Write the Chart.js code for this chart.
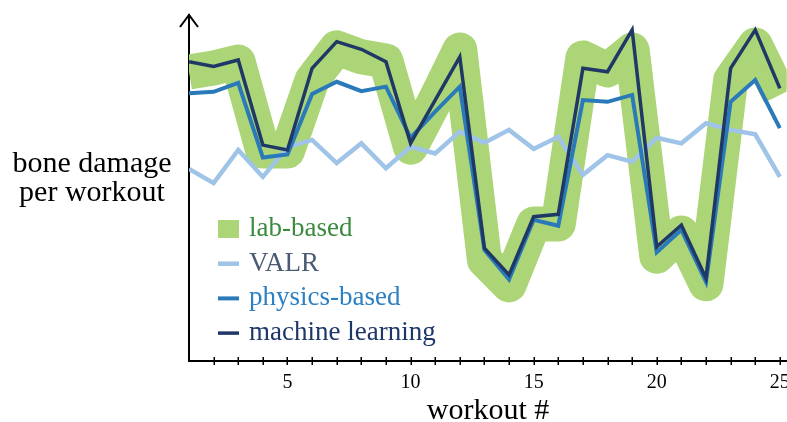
<!DOCTYPE html>
<html>
<head>
<meta charset="utf-8">
<script src="https://cdn.jsdelivr.net/npm/chart.js@4.4.0/dist/chart.umd.min.js"></script>
<style>
    html, body { margin: 0; padding: 0; background: #fff; overflow: hidden; }
    #wrap { width: 787px; height: 422px; overflow: hidden; }
</style>
</head>
<body>
<div id="wrap"><canvas id="boneChart" width="800" height="422"></canvas></div>
<script>
// Номера тренировок
const workouts = [1, 2, 3, 4, 5, 6, 7, 8, 9, 10, 11, 12, 13, 14, 15, 16, 17, 18, 19, 20, 21, 22, 23, 24, 25];
const xTickLabels = [5, 10, 15, 20, 25];

// Значения рядов (условные единицы, ось Y без подписей)
const labBased = [83.5, 84.7, 86.4, 60.7, 60.7, 81.2, 90.5, 87.9, 86.7, 61.8, 75.4, 89.9, 29.2, 22.0, 39.6, 39.6, 87.6, 84.1, 89.9, 30.3, 37.0, 22.3, 81.2, 91.3, 76.9];
const valr = [55.5, 51.4, 61.0, 53.2, 61.8, 63.9, 57.2, 62.9, 55.7, 61.9, 60.0, 66.3, 63.1, 66.8, 61.3, 64.8, 53.8, 59.5, 57.6, 64.5, 62.9, 68.7, 66.8, 65.5, 53.2];
const physicsBased = [77.4, 77.8, 80.4, 58.8, 59.7, 77.2, 80.7, 78.0, 79.3, 64.5, 72.1, 79.3, 32.1, 23.6, 40.8, 39.1, 75.4, 74.9, 76.9, 31.4, 37.9, 22.9, 74.9, 81.2, 67.3];
const machineLearning = [86.5, 85.1, 87.0, 62.4, 61.0, 84.6, 92.3, 90.1, 86.5, 62.9, 75.4, 87.9, 32.6, 24.9, 41.7, 42.4, 84.6, 83.6, 95.7, 33.0, 39.3, 23.9, 84.6, 95.7, 78.8];

const serif = '"Liberation Serif", "Times New Roman", serif';

function toPoints(values) {
    return values.map((v, i) => ({ x: workouts[i], y: v }));
}

// Оси со стрелкой, засечки, подписи и легенда
const decorPlugin = {
    id: 'decor',
    afterDraw(chart) {
        const ctx = chart.ctx;
        const area = chart.chartArea;
        const xScale = chart.scales.x;
        ctx.save();

        // засечки на оси X (сквозь линию оси)
        ctx.strokeStyle = '#000';
        ctx.lineWidth = 1.5;
        workouts.slice(1).forEach(w => {
            const px = Math.round(xScale.getPixelForValue(w)) + 0.25;
            ctx.beginPath();
            ctx.moveTo(px, area.bottom - 4);
            ctx.lineTo(px, area.bottom + 4);
            ctx.stroke();
        });

        // стрелка на оси Y
        ctx.lineWidth = 2;
        ctx.beginPath();
        ctx.moveTo(area.left - 9, area.top + 12);
        ctx.lineTo(area.left, area.top);
        ctx.lineTo(area.left + 9, area.top + 12);
        ctx.stroke();

        // подписи осей
        ctx.fillStyle = '#000';
        ctx.font = '30px ' + serif;
        ctx.textAlign = 'center';
        ctx.textBaseline = 'alphabetic';
        ctx.fillText('workout #', (area.left + 787) / 2, 419);
        ctx.fillText('bone damage', 92, 172);
        ctx.fillText('per workout', 92, 201);

        // легенда
        ctx.font = '27px ' + serif;
        ctx.textAlign = 'left';
        chart.data.datasets.forEach((ds, i) => {
            const baseY = 236 + i * 34.7;
            const midY = baseY - 7;
            if (ds.legendBox) {
                ctx.fillStyle = ds.borderColor;
                ctx.fillRect(218, midY - 9, 21, 18);
            } else {
                ctx.strokeStyle = ds.borderColor;
                ctx.lineWidth = ds.borderWidth;
                ctx.beginPath();
                ctx.moveTo(218, midY);
                ctx.lineTo(239, midY);
                ctx.stroke();
            }
            ctx.fillStyle = ds.textColor;
            ctx.fillText(ds.label, 249, baseY);
        });

        ctx.restore();
    }
};

const ctx = document.getElementById('boneChart').getContext('2d');
const boneChart = new Chart(ctx, {
    type: 'line',
    data: {
        datasets: [
            {
                label: 'lab-based',
                data: toPoints(labBased),
                borderColor: '#acd577',
                borderWidth: 35,
                borderJoinStyle: 'round',
                textColor: '#3b8a3e',
                legendBox: true,
                order: 4
            },
            {
                label: 'VALR',
                data: toPoints(valr),
                borderColor: '#9fc4e7',
                borderWidth: 4.5,
                textColor: '#4a5b73',
                order: 3
            },
            {
                label: 'physics-based',
                data: toPoints(physicsBased),
                borderColor: '#2a7ab9',
                borderWidth: 4,
                textColor: '#2c80c4',
                order: 2
            },
            {
                label: 'machine learning',
                data: toPoints(machineLearning),
                borderColor: '#1f3866',
                borderWidth: 3.5,
                textColor: '#1d3868',
                order: 1
            }
        ]
    },
    options: {
        responsive: false,
        animation: false,
        clip: 0,
        elements: {
            point: { radius: 0 },
            line: { tension: 0 }
        },
        layout: {
            padding: { left: 189, right: 13, top: 15, bottom: 0 }
        },
        plugins: {
            legend: { display: false },
            tooltip: { enabled: false }
        },
        scales: {
            x: {
                type: 'linear',
                min: 1,
                max: 25.28,
                grid: { display: false, drawTicks: false },
                border: { display: true, color: '#000', width: 2 },
                afterBuildTicks: (axis) => {
                    axis.ticks = workouts.map(w => ({ value: w }));
                },
                afterFit: (axis) => {
                    axis.height = 61;
                },
                ticks: {
                    autoSkip: false,
                    maxRotation: 0,
                    padding: 10,
                    color: '#000',
                    font: { family: serif, size: 20 },
                    callback: (value) => xTickLabels.includes(value) ? String(value) : ''
                }
            },
            y: {
                min: 0,
                max: 100,
                grid: { display: false, drawTicks: false },
                border: { display: true, color: '#000', width: 2 },
                ticks: { display: false },
                afterFit: (axis) => {
                    axis.width = 0;
                }
            }
        }
    },
    plugins: [decorPlugin]
});
</script>
</body>
</html>
